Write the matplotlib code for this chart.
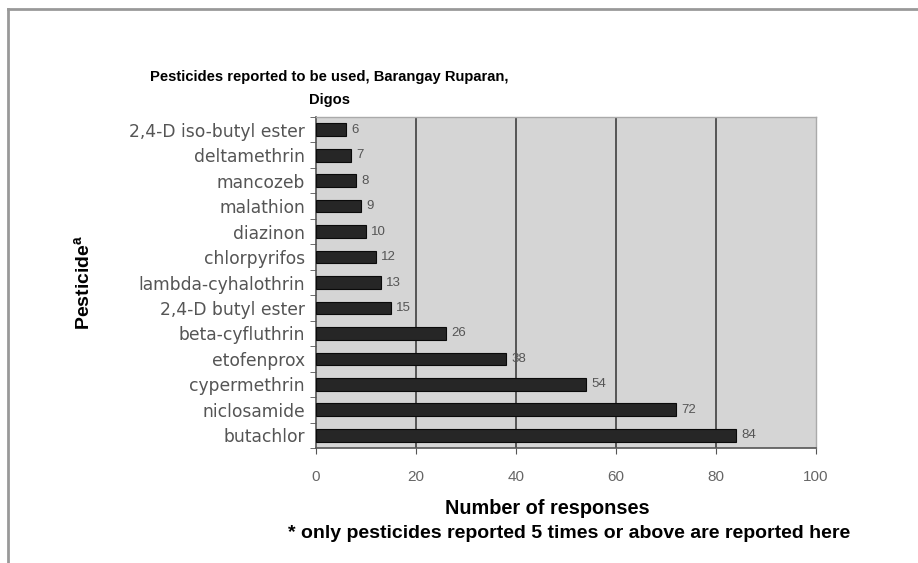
import numpy as np
import matplotlib
matplotlib.use('Agg')
import matplotlib.pyplot as plt
from matplotlib.lines import Line2D

plt.rcParams['font.family'] = ['Liberation Sans', 'DejaVu Sans']
plt.rcParams['mathtext.fontset'] = 'custom'
plt.rcParams['mathtext.bf'] = 'Liberation Sans:bold'
plt.rcParams['mathtext.rm'] = 'Liberation Sans'

# data, bottom to top
pesticides = ['butachlor', 'niclosamide', 'cypermethrin', 'etofenprox',
              'beta-cyfluthrin', '2,4-D butyl ester', 'lambda-cyhalothrin',
              'chlorpyrifos', 'diazinon', 'malathion', 'mancozeb',
              'deltamethrin', '2,4-D iso-butyl ester']
responses = [84, 72, 54, 38, 26, 15, 13, 12, 10, 9, 8, 7, 6]
xticks = [0, 20, 40, 60, 80, 100]

fig = plt.figure(figsize=(9.18, 5.63), dpi=100)
ax = fig.add_axes([316/918, 1-448/563, 500/918, 331/563])

ax.set_facecolor('#d5d5d5')
y = np.arange(len(pesticides))
ax.barh(y, responses, height=0.5, color='#262626', edgecolor='#0a0a0a',
        linewidth=0.8, zorder=3)
for yi, v in zip(y, responses):
    ax.text(v + 1, yi, str(v), va='center', ha='left', fontsize=9.5,
            color='#555555', zorder=4)

ax.set_xlim(0, 100)
ax.set_ylim(-0.5, len(pesticides) - 0.5)
ax.set_xticks(xticks)
ax.set_xticklabels([str(t) for t in xticks], color='#666666', fontsize=11)
ax.set_yticks(y)
ax.set_yticklabels(pesticides, color='#555555', fontsize=12.3,
                   family='DejaVu Sans')
ax.set_yticks(np.arange(len(pesticides) + 1) - 0.5, minor=True)
ax.tick_params(axis='y', which='major', length=0, pad=8)
ax.tick_params(axis='y', which='minor', length=4, color='#555555')
ax.tick_params(axis='x', length=4, color='#555555', pad=12)

for gx in xticks[1:-1]:
    ax.axvline(gx, color='#555555', lw=1.4, zorder=1)

for s in ['left', 'bottom']:
    ax.spines[s].set_color('#555555')
    ax.spines[s].set_linewidth(1.2)
for s in ['top', 'right']:
    ax.spines[s].set_color('#aaaaaa')
    ax.spines[s].set_linewidth(1.0)

fig.text(329/918, 1-77/563, 'Pesticides reported to be used, Barangay Ruparan,',
         ha='center', va='center', fontsize=10.6, fontweight='bold')
fig.text(329/918, 1-100/563, 'Digos', ha='center', va='center',
         fontsize=10.6, fontweight='bold')
fig.text(84/918, 1-282/563, r'Pesticide$^\mathbf{a}$', rotation=90,
         ha='center', va='center', fontsize=14, fontweight='bold')
fig.text(547/918, 1-509/563, 'Number of responses', ha='center',
         va='center', fontsize=14.3, fontweight='bold')
fig.text(288/918, 1-534/563,
         '* only pesticides reported 5 times or above are reported here',
         ha='left', va='center', fontsize=14, fontweight='bold')

# outer frame
fig.add_artist(Line2D([8/918, 1], [1-9/563, 1-9/563], color='#999999', lw=2))
fig.add_artist(Line2D([8/918, 8/918], [0, 1-9/563], color='#999999', lw=2))

fig.savefig('out.png', dpi=100)
